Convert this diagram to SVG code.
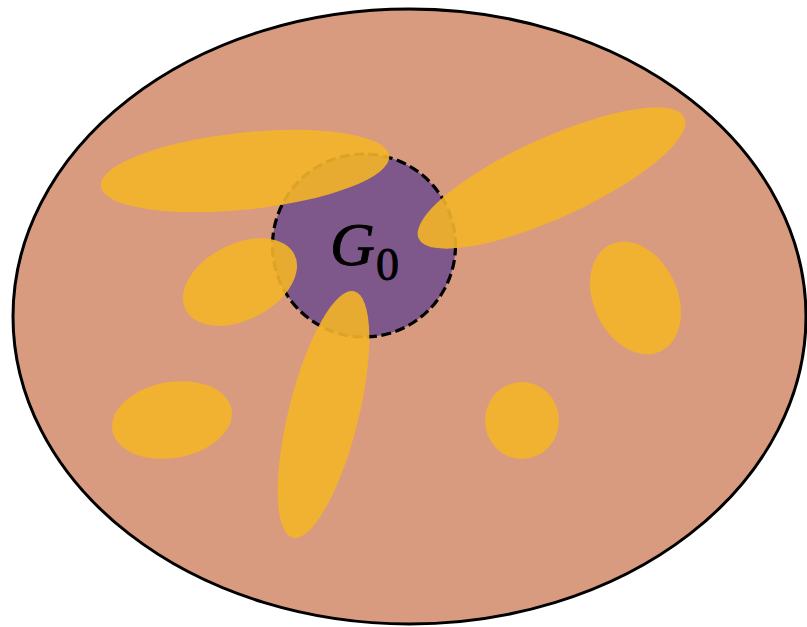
<svg xmlns="http://www.w3.org/2000/svg" width="807" height="627" viewBox="0 0 807 627">
<style>
.blob{fill:#F4B528;fill-opacity:0.9;stroke:none}
.math{font-family:"Liberation Serif","DejaVu Serif",serif;fill:#000;stroke:#000;stroke-width:0.9}
</style>
<rect width="807" height="627" fill="#FFFFFF"/>
<g id="universe">
<ellipse cx="409.5" cy="316.5" rx="396.5" ry="307.5" fill="#D99B80" stroke="#000" stroke-width="3"/>
</g>
<g id="g0">
<circle cx="364" cy="245.5" r="91.5" fill="#7E588A" stroke="#000" stroke-width="3.2" stroke-dasharray="10 4.5"/>
</g>
<g id="blobs">
<ellipse class="blob" cx="245" cy="171" rx="145" ry="38.5" transform="rotate(-6 245 171)"/>
<ellipse class="blob" cx="551.5" cy="178" rx="146" ry="40" transform="rotate(-24.5 551.5 178)"/>
<ellipse class="blob" cx="240" cy="282" rx="61" ry="38" transform="rotate(-27 240 282)"/>
<ellipse class="blob" cx="323.5" cy="414.5" rx="127" ry="35" transform="rotate(-76 323.5 414.5)"/>
<ellipse class="blob" cx="635.5" cy="298" rx="59" ry="42" transform="rotate(65 635.5 298)"/>
<ellipse class="blob" cx="172" cy="420" rx="60.5" ry="38" transform="rotate(-10 172 420)"/>
<ellipse class="blob" cx="522" cy="420.5" rx="37" ry="38.5"/>
</g>
<g id="label">
<text class="math" x="330" y="265"><tspan font-size="62" font-style="italic">G</tspan><tspan x="376" y="280" font-size="46">0</tspan></text>
</g>
</svg>
